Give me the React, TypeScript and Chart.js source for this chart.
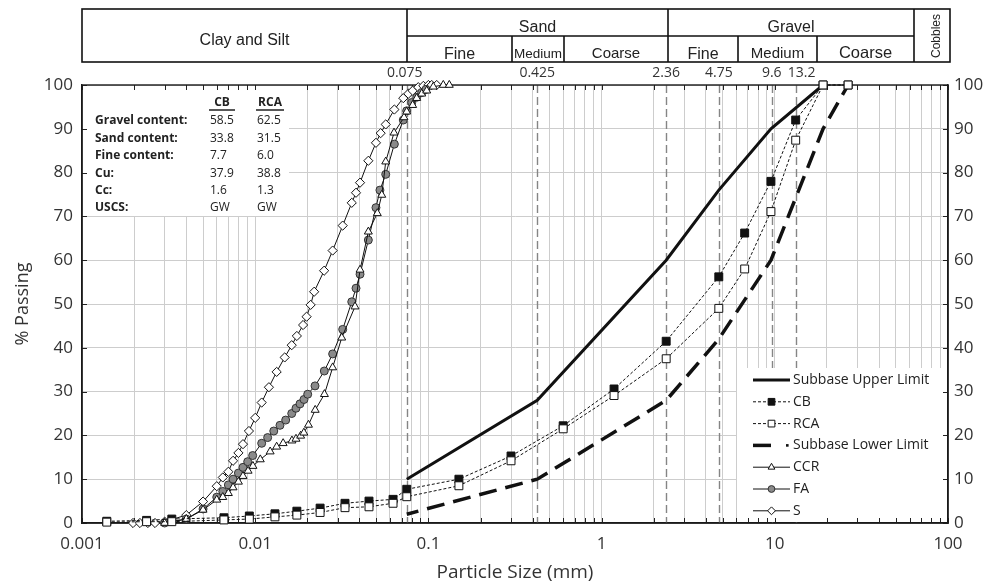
import React, { useEffect, useRef } from "react";
import { Chart, registerables } from "chart.js";

Chart.register(...registerables);

// ---------------- data ----------------
const X_MAJOR_TICKS = [0.001, 0.01, 0.1, 1, 10, 100];
const Y_TICKS = [0, 10, 20, 30, 40, 50, 60, 70, 80, 90, 100];

const REF_SIZES = [0.075, 0.425, 2.36, 4.75, 9.6, 13.2];
const REF_LABELS = ["0.075", "0.425", "2.36", "4.75", "9.6", "13.2"];

const UPPER_SIZE = [0.075, 0.425, 2.36, 4.75, 9.5, 19];
const UPPER_PASS = [10, 28, 60, 76, 90, 100];

const LOWER_SIZE = [0.075, 0.425, 2.36, 4.75, 9.5, 19, 26.5];
const LOWER_PASS = [2, 10, 28, 42, 60, 90, 100];

const CB_SIZE = [0.00139, 0.00236, 0.0033, 0.0066, 0.00925, 0.013, 0.0174, 0.0237, 0.033, 0.0454, 0.0625, 0.075, 0.15, 0.3, 0.6, 1.18, 2.36, 4.75, 6.7, 9.5, 13.2, 19, 26.5];
const CB_PASS = [0.4, 0.6, 0.9, 1.2, 1.6, 2.1, 2.7, 3.4, 4.5, 5.0, 5.4, 7.7, 10.0, 15.3, 22.2, 30.6, 41.5, 56.2, 66.2, 78, 92, 100, 100];

const RCA_SIZE = [0.00139, 0.00236, 0.0033, 0.0066, 0.00925, 0.013, 0.0174, 0.0237, 0.033, 0.0454, 0.0625, 0.075, 0.15, 0.3, 0.6, 1.18, 2.36, 4.75, 6.7, 9.5, 13.2, 19, 26.5];
const RCA_PASS = [0.2, 0.3, 0.3, 0.7, 0.9, 1.4, 1.8, 2.4, 3.5, 3.7, 4.5, 6.0, 8.5, 14.2, 21.5, 29.1, 37.5, 49, 58, 71.1, 87.4, 100, 100];

const CCR_SIZE = [0.003, 0.004, 0.005, 0.006, 0.0065, 0.007, 0.00745, 0.008, 0.0085, 0.0091, 0.0097, 0.0107, 0.0122, 0.0133, 0.0145, 0.0163, 0.0172, 0.0183, 0.0191, 0.0203, 0.0222, 0.0251, 0.028, 0.0316, 0.0377, 0.0403, 0.045, 0.0507, 0.0538, 0.0567, 0.0633, 0.0723, 0.0749, 0.0811, 0.0856, 0.0915, 0.0978, 0.1067, 0.1219, 0.132];
const CCR_PASS = [0, 0.9, 3.0, 5.3, 5.9, 6.8, 8.1, 9.4, 10.7, 11.9, 13, 14.5, 16.3, 17.4, 18.2, 18.8, 19.2, 19.9, 20.6, 22.4, 25.8, 29.4, 35.5, 42.3, 49.4, 57.8, 66.5, 70.7, 74.9, 82.5, 89.1, 92.6, 93.9, 95.4, 97, 98, 98.7, 99.6, 100, 100];

const FA_SIZE = [0.003, 0.004, 0.005, 0.006, 0.0065, 0.007, 0.00745, 0.008, 0.0085, 0.00905, 0.00967, 0.0109, 0.0118, 0.0128, 0.0139, 0.015, 0.01625, 0.0172, 0.01814, 0.01913, 0.0201, 0.02215, 0.02506, 0.028, 0.032, 0.0361, 0.0382, 0.0403, 0.045, 0.0498, 0.0525, 0.0567, 0.0636, 0.0716, 0.0749, 0.0801, 0.0856, 0.0915, 0.0968];
const FA_PASS = [0, 0.9, 3.2, 5.9, 7.2, 8.7, 10, 11.4, 12.7, 14, 15.4, 18.2, 19.5, 21, 22.3, 23.5, 25, 26.2, 27.2, 28.2, 29.4, 31.3, 34.7, 38.6, 44.2, 50.5, 53.6, 56.8, 64.6, 72, 76, 79.6, 86.5, 92, 94.1, 96, 97.2, 98.3, 99];

const S_SIZE = [0.00197, 0.00216, 0.0024, 0.00264, 0.003, 0.004, 0.005, 0.006, 0.0065, 0.007, 0.00745, 0.008, 0.0085, 0.0092, 0.01, 0.0109, 0.012, 0.0133, 0.0148, 0.01625, 0.0174, 0.0189, 0.0198, 0.0209, 0.0219, 0.025, 0.028, 0.032, 0.0361, 0.0382, 0.0403, 0.045, 0.0498, 0.053, 0.0567, 0.0636, 0.0716, 0.0766, 0.0811, 0.0874, 0.0935, 0.1, 0.1045, 0.1117];
const S_PASS = [0, 0, 0, 0, 0.3, 1.8, 4.9, 8.4, 10.4, 11.7, 14.2, 16, 18, 21, 24, 27.5, 31, 34.5, 37.8, 40.6, 42.7, 45.2, 47.1, 49.8, 52.8, 57.6, 62.2, 67.9, 73.1, 75.4, 77.7, 82.7, 86.8, 89, 91, 94.4, 97, 98, 98.7, 99.5, 99.8, 100, 100, 100];

const INSET_COLS = ["CB", "RCA"];
const INSET_ROWS = ["Gravel content:", "Sand content:", "Fine content:", "Cu:", "Cc:", "USCS:"];
const INSET_CB = ["58.5", "33.8", "7.7", "37.9", "1.6", "GW"];
const INSET_RCA = ["62.5", "31.5", "6.0", "38.8", "1.3", "GW"];

const LEGEND_LABELS = ["Subbase Upper Limit", "CB", "RCA", "Subbase Lower Limit", "CCR", "FA", "S"];

// ---------------- styles / layout ----------------
const FONT = "'Open Sans', sans-serif";
const HFONT = "'Liberation Sans', Arial, sans-serif";
const TXT = "#333";
const GRID = "#cdcdcd";

type Cell = { x0: number; x1: number; baseline: number; text: string; size: number };
const HEADER_LINES = {
  outer: [82, 9, 950, 62],
  hmid: [407, 914, 36],
  vfull: [407, 668, 914],
  vhalf: [512, 564, 738, 817],
};
const HEADER_CELLS: Cell[] = [
  { x0: 82, x1: 407, baseline: 45, text: "Clay and Silt", size: 16 },
  { x0: 407, x1: 668, baseline: 32, text: "Sand", size: 16 },
  { x0: 668, x1: 914, baseline: 32, text: "Gravel", size: 16 },
  { x0: 407, x1: 512, baseline: 58.5, text: "Fine", size: 16 },
  { x0: 512, x1: 564, baseline: 57.5, text: "Medium", size: 13.5 },
  { x0: 564, x1: 668, baseline: 57.5, text: "Coarse", size: 15 },
  { x0: 668, x1: 738, baseline: 58.5, text: "Fine", size: 16 },
  { x0: 738, x1: 817, baseline: 58, text: "Medium", size: 15 },
  { x0: 817, x1: 914, baseline: 58, text: "Coarse", size: 16.5 },
];

const pts = (xs: number[], ys: number[]) => xs.map((x, i) => ({ x, y: ys[i] }));

function allXTicks(): number[] {
  const out: number[] = [];
  for (let k = 0; k < X_MAJOR_TICKS.length; k++) {
    const base = X_MAJOR_TICKS[k];
    if (k === X_MAJOR_TICKS.length - 1) {
      out.push(base);
      break;
    }
    for (let m = 1; m <= 9; m++) out.push(+(base * m).toPrecision(6));
  }
  return out;
}

function isMajor(v: number) {
  const l = Math.log10(v);
  return Math.abs(l - Math.round(l)) < 1e-6;
}

function drawMarker(ctx: CanvasRenderingContext2D, style: string, x: number, y: number, r: number, fill: string, stroke: string) {
  ctx.save();
  ctx.beginPath();
  if (style === "rect") {
    const s = r * Math.SQRT1_2;
    ctx.rect(x - s, y - s, 2 * s, 2 * s);
  } else if (style === "rectRot") {
    ctx.moveTo(x, y - r);
    ctx.lineTo(x + r, y);
    ctx.lineTo(x, y + r);
    ctx.lineTo(x - r, y);
    ctx.closePath();
  } else if (style === "triangle") {
    ctx.moveTo(x, y - r);
    ctx.lineTo(x + r * 0.866, y + r * 0.5);
    ctx.lineTo(x - r * 0.866, y + r * 0.5);
    ctx.closePath();
  } else {
    ctx.arc(x, y, r, 0, Math.PI * 2);
  }
  ctx.fillStyle = fill;
  ctx.fill();
  ctx.lineWidth = 1;
  ctx.strokeStyle = stroke;
  ctx.stroke();
  ctx.restore();
}

const decorPlugin = {
  id: "decor",
  beforeDatasetsDraw(chart: any) {
    const { ctx, chartArea: a, scales } = chart;
    const xs = scales.x;
    const ys = scales.y;
    ctx.save();
    // reference sieve lines
    ctx.strokeStyle = "#858585";
    ctx.lineWidth = 1.4;
    ctx.setLineDash([8, 4]);
    REF_SIZES.forEach((v) => {
      const px = Math.round(xs.getPixelForValue(v)) + 0.5;
      ctx.beginPath();
      ctx.moveTo(px, a.top);
      ctx.lineTo(px, a.bottom);
      ctx.stroke();
    });
    ctx.setLineDash([]);
    // white boxes (inset table, legend)
    ctx.fillStyle = "#fff";
    ctx.fillRect(a.left + 1, a.top + 1, 206, 130);
    ctx.fillRect(737, 368, a.right - 737 - 1, a.bottom - 368 - 1);
    // inside ticks
    ctx.strokeStyle = "#222";
    ctx.lineWidth = 1;
    allXTicks().forEach((v) => {
      const px = Math.round(xs.getPixelForValue(v)) + 0.5;
      ctx.beginPath();
      ctx.moveTo(px, a.bottom);
      ctx.lineTo(px, a.bottom - 5);
      ctx.moveTo(px, a.top);
      ctx.lineTo(px, a.top + 5);
      ctx.stroke();
    });
    Y_TICKS.forEach((v) => {
      const py = Math.round(ys.getPixelForValue(v)) + 0.5;
      ctx.beginPath();
      ctx.moveTo(a.left, py);
      ctx.lineTo(a.left + 5, py);
      ctx.moveTo(a.right, py);
      ctx.lineTo(a.right - 5, py);
      ctx.stroke();
    });
    // frame
    ctx.strokeStyle = "#1a1a1a";
    ctx.lineWidth = 1.4;
    ctx.strokeRect(a.left, a.top, a.right - a.left, a.bottom - a.top);
    ctx.restore();
  },
  afterDraw(chart: any) {
    const { ctx, chartArea: a, scales } = chart;
    const xs = scales.x;
    ctx.save();

    // ---- header table ----
    ctx.strokeStyle = "#111";
    ctx.lineWidth = 1.6;
    const [ox0, oy0, ox1, oy1] = HEADER_LINES.outer;
    ctx.strokeRect(ox0, oy0, ox1 - ox0, oy1 - oy0);
    ctx.beginPath();
    ctx.moveTo(HEADER_LINES.hmid[0], HEADER_LINES.hmid[2]);
    ctx.lineTo(HEADER_LINES.hmid[1], HEADER_LINES.hmid[2]);
    HEADER_LINES.vfull.forEach((x) => {
      ctx.moveTo(x, oy0);
      ctx.lineTo(x, oy1);
    });
    HEADER_LINES.vhalf.forEach((x) => {
      ctx.moveTo(x, HEADER_LINES.hmid[2]);
      ctx.lineTo(x, oy1);
    });
    ctx.stroke();
    ctx.fillStyle = "#222";
    ctx.textAlign = "center";
    ctx.textBaseline = "alphabetic";
    HEADER_CELLS.forEach((c) => {
      ctx.font = `${c.size}px ${HFONT}`;
      ctx.fillText(c.text, (c.x0 + c.x1) / 2, c.baseline);
    });
    ctx.save();
    ctx.translate(940, 36);
    ctx.rotate(-Math.PI / 2);
    ctx.font = `12px ${HFONT}`;
    ctx.textBaseline = "alphabetic";
    ctx.fillText("Cobbles", 0, 0);
    ctx.restore();

    // ---- reference labels ----
    ctx.font = `14px ${FONT}`;
    ctx.fillStyle = TXT;
    ctx.textBaseline = "middle";
    REF_SIZES.forEach((v, i) => {
      const off = i === REF_SIZES.length - 1 ? 6 : i === 0 ? -2 : 0;
      ctx.fillText(REF_LABELS[i], xs.getPixelForValue(v) + off, 73);
    });

    // ---- inset table ----
    ctx.fillStyle = "#222";
    ctx.font = `bold 12px ${FONT}`;
    ctx.textAlign = "center";
    const colX = [222, 270];
    INSET_COLS.forEach((t, i) => {
      ctx.fillText(t, colX[i], 103);
    });
    ctx.strokeStyle = "#222";
    ctx.lineWidth = 1.6;
    ctx.beginPath();
    ctx.moveTo(209, 110);
    ctx.lineTo(235, 110);
    ctx.moveTo(256, 110);
    ctx.lineTo(284, 110);
    ctx.stroke();
    ctx.textAlign = "left";
    INSET_ROWS.forEach((t, i) => {
      const y = 121 + i * 17.4;
      ctx.font = `bold 12px ${FONT}`;
      ctx.fillText(t, 95, y);
      ctx.font = `12px ${FONT}`;
      ctx.fillText(INSET_CB[i], 210, y);
      ctx.fillText(INSET_RCA[i], 257, y);
    });

    // ---- legend ----
    const ds = chart.data.datasets;
    const lx0 = 753, lx1 = 790, mx = 771.5;
    ctx.font = `14px ${FONT}`;
    ctx.textBaseline = "middle";
    LEGEND_LABELS.forEach((label, i) => {
      const y = 380 + i * 21.8;
      const d = ds[i];
      ctx.save();
      ctx.strokeStyle = "#111";
      ctx.lineWidth = d.borderWidth;
      ctx.setLineDash(d.borderDash || []);
      ctx.beginPath();
      if (i === 3) {
        ctx.moveTo(lx0, y);
        ctx.lineTo(777, y);
      } else {
        ctx.moveTo(lx0, y);
        ctx.lineTo(lx1, y);
      }
      ctx.stroke();
      ctx.restore();
      if (i === 3) {
        ctx.fillStyle = "#111";
        ctx.fillRect(786, y - 1.3, 2.6, 2.6);
      }
      if (d.pointRadius > 0) {
        drawMarker(ctx, d.pointStyle, mx, y, d.pointRadius * 0.85, d.pointBackgroundColor, d.pointBorderColor);
      }
      ctx.fillStyle = "#222";
      ctx.textAlign = "left";
      ctx.fillText(label, 793, y);
    });

    // ---- axis titles ----
    ctx.fillStyle = TXT;
    ctx.textAlign = "center";
    ctx.textBaseline = "middle";
    ctx.font = `19px ${FONT}`;
    ctx.fillText("Particle Size (mm)", (a.left + a.right) / 2, 573);
    ctx.save();
    ctx.translate(23, (a.top + a.bottom) / 2);
    ctx.rotate(-Math.PI / 2);
    ctx.font = `18px ${FONT}`;
    ctx.fillText("% Passing", 0, 0);
    ctx.restore();

    ctx.restore();
  },
};

export default function App() {
  const ref = useRef<HTMLCanvasElement>(null);
  useEffect(() => {
    document.body.style.margin = "0";
    const canvas = ref.current!;
    const base = { showLine: true, clip: false as any, tension: 0 };
    const chart = new Chart(canvas, {
      type: "line",
      data: {
        datasets: [
          { ...base, label: LEGEND_LABELS[0], data: pts(UPPER_SIZE, UPPER_PASS), borderColor: "#111", borderWidth: 3, pointRadius: 0, order: 3 },
          { ...base, label: LEGEND_LABELS[1], data: pts(CB_SIZE, CB_PASS), borderColor: "#111", borderWidth: 1, borderDash: [3, 2], pointStyle: "rect", pointRadius: 5.6, pointBackgroundColor: "#111", pointBorderColor: "#111", pointBorderWidth: 1, order: 2 },
          { ...base, label: LEGEND_LABELS[2], data: pts(RCA_SIZE, RCA_PASS), borderColor: "#111", borderWidth: 1, borderDash: [3, 2], pointStyle: "rect", pointRadius: 5.6, pointBackgroundColor: "#fff", pointBorderColor: "#111", pointBorderWidth: 1, order: 1 },
          { ...base, label: LEGEND_LABELS[3], data: pts(LOWER_SIZE, LOWER_PASS), borderColor: "#111", borderWidth: 3.5, borderDash: [18, 9], borderDashOffset: 6, pointRadius: 0, order: 4 },
          { ...base, label: LEGEND_LABELS[4], data: pts(CCR_SIZE, CCR_PASS), borderColor: "#111", borderWidth: 1, pointStyle: "triangle", pointRadius: 4.6, pointBackgroundColor: "#fff", pointBorderColor: "#111", pointBorderWidth: 1, order: 5 },
          { ...base, label: LEGEND_LABELS[5], data: pts(FA_SIZE, FA_PASS), borderColor: "#111", borderWidth: 1, pointStyle: "circle", pointRadius: 4, pointBackgroundColor: "#8a8a8a", pointBorderColor: "#333", pointBorderWidth: 1, order: 6 },
          { ...base, label: LEGEND_LABELS[6], data: pts(S_SIZE, S_PASS), borderColor: "#111", borderWidth: 1, pointStyle: "rectRot", pointRadius: 4.6, pointBackgroundColor: "#fff", pointBorderColor: "#111", pointBorderWidth: 1, order: 7 },
        ] as any,
      },
      options: {
        animation: false,
        responsive: false,
        maintainAspectRatio: false,
        layout: { padding: { top: 85, left: 0, right: 0, bottom: 0 } },
        plugins: { legend: { display: false }, tooltip: { enabled: false }, title: { display: false } },
        font: { family: FONT } as any,
        scales: {
          x: {
            type: "logarithmic",
            min: X_MAJOR_TICKS[0],
            max: X_MAJOR_TICKS[X_MAJOR_TICKS.length - 1],
            afterBuildTicks: (scale: any) => {
              scale.ticks = allXTicks().map((v) => ({ value: v, major: isMajor(v) }));
            },
            afterFit: (scale: any) => {
              scale.height = 62;
            },
            grid: { color: GRID, lineWidth: 1, drawTicks: false },
            border: { color: "#1a1a1a", width: 1.4 },
            ticks: {
              autoSkip: false,
              maxRotation: 0,
              padding: 11,
              color: TXT,
              font: { family: FONT, size: 17 },
              callback: (v: any) => (isMajor(Number(v)) ? String(Number(v)) : ""),
            },
          },
          y: {
            type: "linear",
            position: "left",
            min: 0,
            max: 100,
            afterFit: (scale: any) => {
              scale.width = 82;
            },
            grid: { color: GRID, lineWidth: 1, drawTicks: false },
            border: { color: "#1a1a1a", width: 1.4 },
            ticks: { stepSize: 10, padding: 9, color: TXT, font: { family: FONT, size: 17 } },
          },
          y2: {
            type: "linear",
            position: "right",
            min: 0,
            max: 100,
            afterFit: (scale: any) => {
              scale.width = 39;
            },
            grid: { display: false, drawTicks: false },
            border: { color: "#1a1a1a", width: 1.4 },
            ticks: { stepSize: 10, padding: 6, color: TXT, font: { family: FONT, size: 17 } },
          },
        } as any,
      },
      plugins: [decorPlugin],
    });
    return () => chart.destroy();
  }, []);
  return <canvas ref={ref} width={987} height={585} style={{ display: "block", width: 987, height: 585 }} />;
}
